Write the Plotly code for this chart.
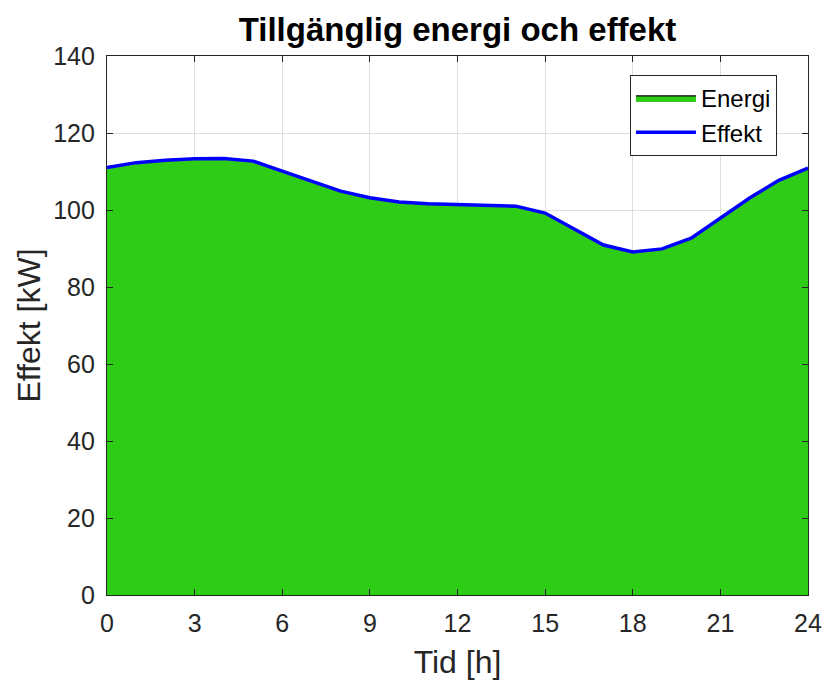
import plotly.graph_objects as go

hours = list(range(0, 25))
effekt = [111.0, 112.3, 112.9, 113.3, 113.4, 112.7, 110.1, 107.5, 104.9, 103.2,
          102.1, 101.6, 101.4, 101.2, 101.0, 99.2, 95.0, 90.9, 89.1, 89.9,
          92.7, 97.9, 103.1, 107.7, 110.9]
x_ticks = [0, 3, 6, 9, 12, 15, 18, 21, 24]
y_ticks = [0, 20, 40, 60, 80, 100, 120, 140]

title_text = "Tillgänglig energi och effekt"
x_label = "Tid [h]"
y_label = "Effekt [kW]"

font_family = "Liberation Sans, Arial, sans-serif"

fig = go.Figure()
fig.add_trace(go.Scatter(
    x=hours, y=effekt, name="Energi", mode="lines",
    fill="tozeroy", fillcolor="#2ECC17",
    line=dict(color="#000000", width=1.2),
))
fig.add_trace(go.Scatter(
    x=hours, y=effekt, name="Effekt", mode="lines",
    line=dict(color="#0000FF", width=3.5),
))

axis_common = dict(
    showgrid=True, gridcolor="#DEDEDE", gridwidth=1,
    showline=True, linecolor="#262626", linewidth=1.2, mirror="ticks",
    ticks="inside", ticklen=6, tickcolor="#262626", tickwidth=1,
    tickfont=dict(family=font_family, size=25, color="#262626"),
    zeroline=False, automargin=False,
)

fig.update_layout(
    width=824, height=681,
    paper_bgcolor="white", plot_bgcolor="white",
    margin=dict(l=107, r=16, t=56, b=86),
    title=dict(text="<b>" + title_text + "</b>", xref="paper", x=0.5, xanchor="center",
               yref="container", y=1 - 29 / 681, yanchor="middle",
               font=dict(family=font_family, size=33, color="#000000")),
    xaxis=dict(range=[0, 24], tickvals=x_ticks, ticklabelstandoff=6,
               title=dict(text=x_label, font=dict(family=font_family, size=32, color="#262626"),
                          standoff=14),
               **axis_common),
    yaxis=dict(range=[0, 140], tickvals=y_ticks, ticklabelstandoff=6,
               title=dict(text=y_label, font=dict(family=font_family, size=32, color="#262626"),
                          standoff=2),
               **axis_common),
    legend=dict(x=0.746, y=0.965, xanchor="left", yanchor="top",
                bgcolor="white", bordercolor="#262626", borderwidth=1,
                font=dict(family=font_family, size=24, color="#000000"),
                itemwidth=60, tracegroupgap=0),
    showlegend=True,
)

fig.write_html("out.html", config={"displayModeBar": False},
               post_script="document.body.style.margin='0px';")
